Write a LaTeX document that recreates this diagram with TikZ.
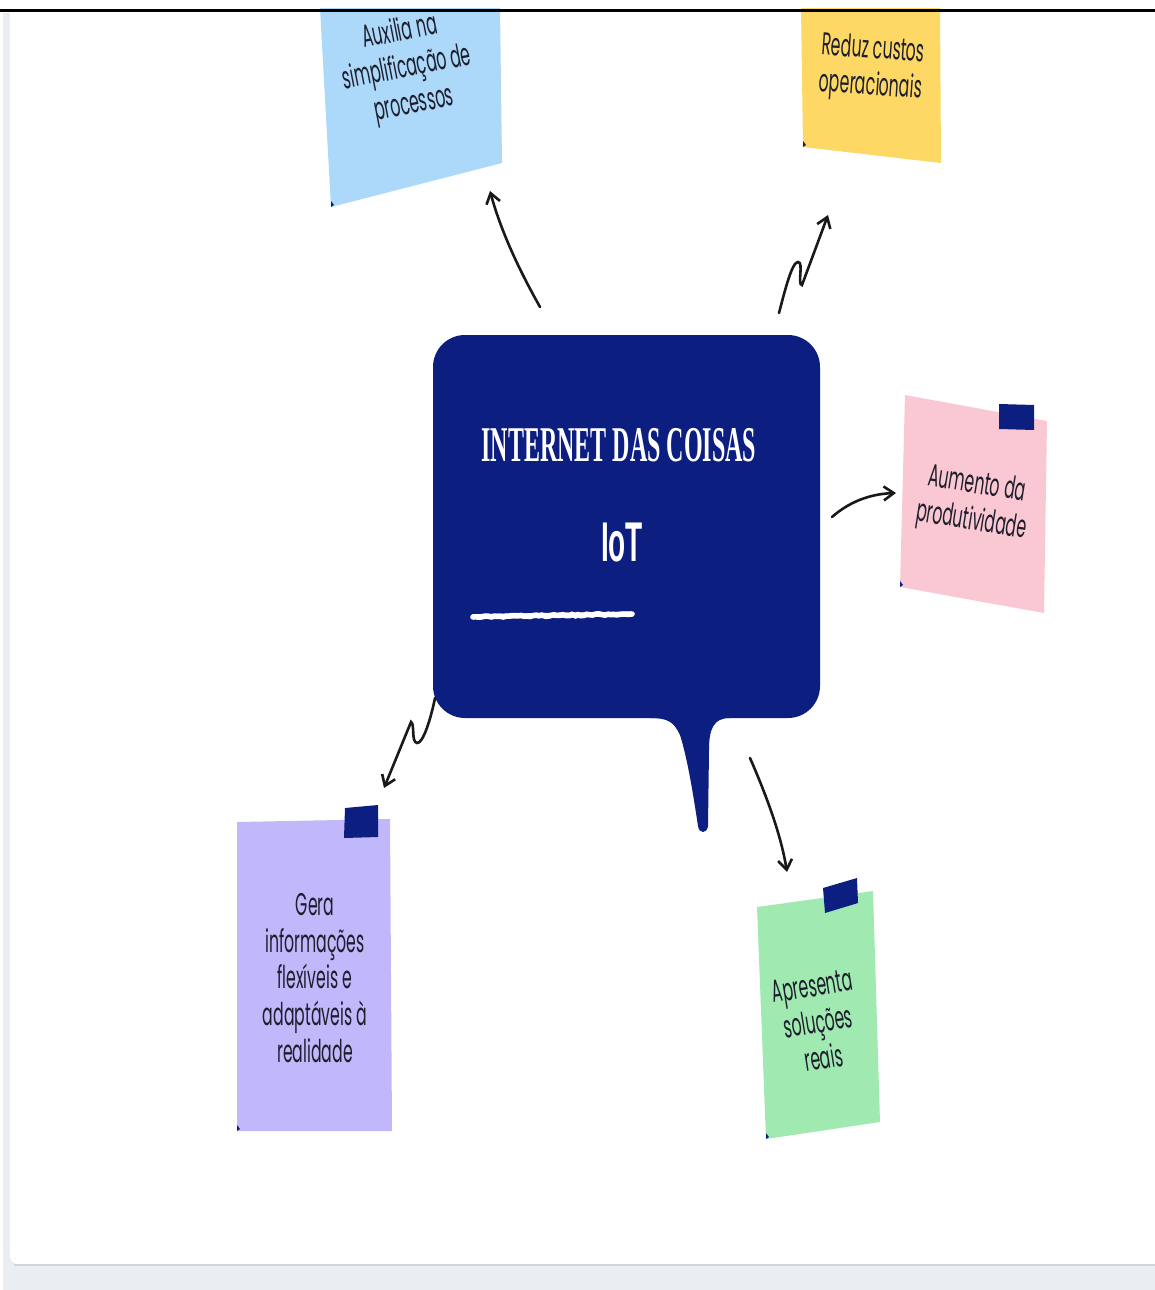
\documentclass[tikz,border=0pt]{standalone}
\usepackage{fontspec}
\setmainfont{Liberation Serif}
\newfontfamily\notefont[FakeStretch=0.5]{Poppins}
\newfontfamily\headfont[FakeStretch=0.48]{Liberation Serif}
\newfontfamily\iotfont[FakeStretch=0.5]{Liberation Sans}
\usetikzlibrary{positioning,arrows.meta,decorations.pathmorphing}

\definecolor{navy}{RGB}{12,30,128}
\definecolor{panel}{RGB}{234,237,241}
\definecolor{skynote}{RGB}{172,216,250}
\definecolor{sunnote}{RGB}{254,216,100}
\definecolor{rosenote}{RGB}{250,200,210}
\definecolor{lilacnote}{RGB}{192,184,250}
\definecolor{mintnote}{RGB}{160,234,178}
\definecolor{inkdark}{RGB}{30,30,45}

% sticky note paper: colour + four corners (tl, tr, br, bl)
\newcommand{\notepaper}[5]{\fill[#1] #2 -- #3 -- #4 -- #5 -- cycle;
  \fill[navy] #5 -- ++(0,-6) -- ++(3,4) -- cycle;}

\begin{document}
\begin{tikzpicture}[
  x=0.5pt, y=-0.5pt,
  arr/.style={draw=black!90, line width=1.3pt, line cap=round,
              -{Straight Barb[length=5pt,width=7pt,line width=1.3pt]}},
  notetxt/.style={font=\notefont\fontsize{15.7}{18.3}\selectfont, text=inkdark,
                  align=center, inner sep=0pt},
  tape/.style={fill=navy},
  chalk/.style={draw=white, line width=2.8pt, line cap=round,
                decorate, decoration={random steps, segment length=1.5pt, amplitude=0.35pt}},
]
\useasboundingbox (0,0) rectangle (1155,1290);
\clip (0,0) rectangle (1155,1290);

% ---------------- page frame ----------------
\fill[white] (0,0) rectangle (1155,1290);
\fill[panel] (3,13) rectangle (1155,1290);
\fill[white, rounded corners=4pt] (10,-20) rectangle (1200,1264);
\draw[panel!90!black, line width=1pt] (14,1265) -- (1155,1265);

% ---------------- speech bubble ----------------
\node[fill=navy, rounded corners=16pt, minimum width=193.5pt, minimum height=191.5pt,
      inner sep=0pt] (bubble) at (626.5,526.5) {};
\fill[navy] (650,710) -- (650,718) .. controls (668,718) and (674,722) .. (680,735)
  .. controls (688,760) and (694,800) .. (698,826) .. controls (699,834) and (707,834) .. (708,826)
  -- (709,750) .. controls (709,728) and (714,718) .. (730,718) -- (730,710) -- cycle;

\node[font=\headfont\bfseries\fontsize{25}{30}\selectfont, text=white, inner sep=0pt]
  (title) at (619,445) {INTERNET DAS COISAS};
\node[font=\iotfont\bfseries\fontsize{28}{32}\selectfont, text=white, inner sep=0pt]
  (iot) at (622,543) {IoT};
\pgfmathsetseed{7}
\draw[white, line width=2.4pt, line cap=round] (474,616.5) -- (631,614);
\draw[chalk] (473,617) -- (632,614);

% ---------------- sticky notes ----------------
\notepaper{skynote}{(320,8)}{(500,8)}{(502,163)}{(331,207)}
\node[notetxt, rotate=11] (simpl) at (407,69) {Auxilia na\\simplificação de\\processos};

\notepaper{sunnote}{(801,8)}{(940,8)}{(941,163)}{(803,147)}
\node[notetxt, rotate=-4] (custos) at (872,69) {Reduz custos\\operacionais};

\notepaper{rosenote}{(905,395)}{(1047,421)}{(1044,613)}{(900,587)}
\fill[tape] (999,404) -- (1034,405) -- (1034,430) -- (999,429) -- cycle;
\node[notetxt, rotate=-9] (produt) at (974,504) {Aumento da\\produtividade};

\notepaper{lilacnote}{(237,822)}{(390,819)}{(392,1131)}{(237,1131)}
\fill[tape] (345,808) -- (378,805) -- (378,837) -- (344,838) -- cycle;
\node[notetxt] (gera) at (315,978) {Gera\\informações\\flexíveis e\\adaptáveis à\\realidade};

\notepaper{mintnote}{(757,907)}{(873,891)}{(880,1122)}{(766,1139)}
\fill[tape] (823,888) -- (857,878) -- (858,903) -- (825,913) -- cycle;
\node[notetxt, rotate=9] (solucoes) at (818,1022) {Apresenta\\soluções\\reais};

% ---------------- hand-drawn connectors ----------------
\coordinate (a1s) at (540,307);  \coordinate (a1e) at (490,191);
\coordinate (a2s) at (779,313);  \coordinate (a2e) at (828,215);
\coordinate (a3s) at (832,517);  \coordinate (a3e) at (896,493);
\coordinate (a4s) at (435,698);  \coordinate (a4e) at (384,788);
\coordinate (a5s) at (750,758);  \coordinate (a5e) at (787,872);

\draw[arr] (a1s) .. controls (522,275) and (502,235) .. (a1e);
\draw[arr] (a2s) .. controls (785,290) and (792,262) .. (798,262)
  .. controls (804,262) and (797,285) .. (802,285) -- (a2e);
\draw[arr] (a3s) .. controls (848,503) and (868,494) .. (a3e);
\draw[arr] (a4s) .. controls (431,718) and (423,744) .. (417,743)
  .. controls (411,742) and (415,724) .. (411,722) -- (a4e);
\draw[arr] (a5s) .. controls (767,797) and (781,835) .. (a5e);

% top rule
\draw[black, line width=1.5pt] (0,10.5) -- (1155,10.5);
\end{tikzpicture}
\end{document}
